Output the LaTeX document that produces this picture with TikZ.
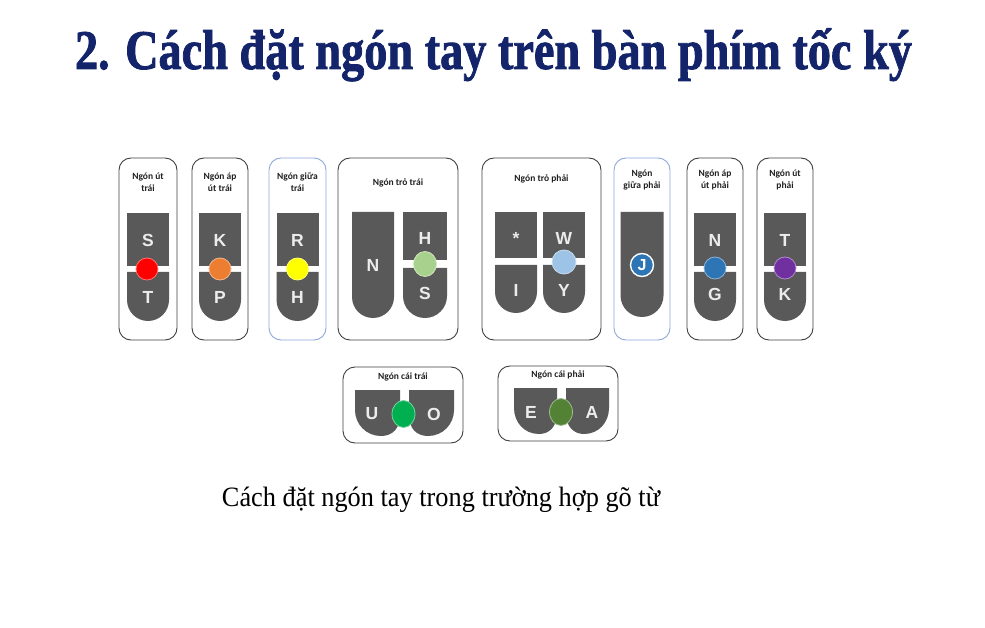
\documentclass[tikz,border=0pt]{standalone}
\usepackage{fontspec}
\setmainfont{Liberation Serif}
\newfontfamily\headfont[FakeBold=1.6]{Liberation Serif Bold}
\newfontfamily\labelfont{Carlito}
\newfontfamily\keyfont{Liberation Sans}
\usetikzlibrary{shapes.geometric}

\definecolor{titleblue}{HTML}{14246B}
\definecolor{keygray}{HTML}{595959}
\definecolor{keyletter}{HTML}{ECECEC}
\definecolor{panelline}{HTML}{404040}
\definecolor{panelblue}{HTML}{8EA9DB}
\definecolor{labeltext}{HTML}{202020}
\definecolor{dotred}{HTML}{FF0000}
\definecolor{dotorange}{HTML}{ED7D31}
\definecolor{dotyellow}{HTML}{FFFF00}
\definecolor{dotlgreen}{HTML}{A9D18E}
\definecolor{dotlblue}{HTML}{9DC3E6}
\definecolor{dotblue}{HTML}{2E75B6}
\definecolor{dotpurple}{HTML}{7030A0}
\definecolor{dotgreen}{HTML}{00B050}
\definecolor{dotdgreen}{HTML}{548235}

% square-topped key
\newcommand\keyrect[4]{\fill[keygray] (#1,#2) rectangle (#3,#4);}
% key with a half-round bottom: x1, y1 (top), x2, y2 (bottom)
\newcommand\keyround[4]{%
  \pgfmathsetmacro\kxa{#1}%
  \pgfmathsetmacro\kxb{#3}%
  \pgfmathsetmacro\kr{(\kxb-\kxa)/2}%
  \pgfmathsetmacro\kc{(\kxb+\kxa)/2}%
  \pgfmathsetmacro\km{#4-\kr}%
  \pgfmathsetmacro\kk{0.5523*\kr}%
  \fill[keygray] (\kxa,#2) -- (\kxb,#2) -- (\kxb,\km)
    .. controls (\kxb,\km+\kk) and (\kc+\kk,#4) .. (\kc,#4)
    .. controls (\kc-\kk,#4) and (\kxa,\km+\kk) .. (\kxa,\km) -- cycle;}

\begin{document}
\begin{tikzpicture}[x=1pt,y=-1pt,
  panel/.style={draw=panelline, line width=0.9pt, rounded corners=12pt,
    fill=white, inner sep=0pt},
  panelb/.style={panel, draw=panelblue},
  lbl/.style={align=center, text=labeltext, inner sep=0pt,
    font=\labelfont\bfseries\fontsize{9.5}{12}\selectfont},
  keytxt/.style={text=keyletter, inner sep=0pt,
    font=\keyfont\bfseries\fontsize{17.5}{17.5}\selectfont},
  dot/.style={circle, minimum size=22pt, inner sep=0pt, line width=0.8pt,
    fill=#1, draw=#1!55!white},
  thumbdot/.style={ellipse, minimum width=23pt, minimum height=27pt,
    inner sep=0pt, line width=0.8pt, fill=#1, draw=#1!55!white}]

\useasboundingbox (0,0) rectangle (985,628);
\fill[white] (0,0) rectangle (985,628);

% heading
\node[anchor=base, text=titleblue, inner sep=0pt] (title) at (493.5,69)
  {\resizebox{837pt}{\height}{\headfont\fontsize{56}{56}\selectfont
   2. Cách đặt ngón tay trên bàn phím tốc ký}};

% finger panels
\node[panel,  minimum width=58pt,  minimum height=182pt] (p1) at (148,249) {};
\node[panel,  minimum width=56pt,  minimum height=182pt] (p2) at (220,249) {};
\node[panelb, minimum width=57pt,  minimum height=182pt] (p3) at (297.5,249) {};
\node[panel,  minimum width=120pt, minimum height=182pt] (p4) at (398,249) {};
\node[panel,  minimum width=119pt, minimum height=182pt] (p5) at (541.5,249) {};
\node[panelb, minimum width=56pt,  minimum height=182pt] (p6) at (642,249) {};
\node[panel,  minimum width=56pt,  minimum height=182pt] (p7) at (715,249) {};
\node[panel,  minimum width=56pt,  minimum height=182pt] (p8) at (785,249) {};
% thumb panels
\node[panel, minimum width=120pt, minimum height=76pt] (p9)  at (403,405) {};
\node[panel, minimum width=120pt, minimum height=75pt] (p10) at (558,403.5) {};

% panel captions
\node[lbl] (l1) at (148,182) {Ngón út\\trái};
\node[lbl] (l2) at (220,182) {Ngón áp\\út trái};
\node[lbl] (l3) at (297.5,182) {Ngón giữa\\trái};
\node[lbl] (l4) at (398,183) {Ngón trỏ trái};
\node[lbl] (l5) at (541.5,179) {Ngón trỏ phải};
\node[lbl] (l6) at (642,180) {Ngón\\giữa phải};
\node[lbl] (l7) at (715,180) {Ngón áp\\út phải};
\node[lbl] (l8) at (785,180) {Ngón út\\phải};
\node[lbl] (l9) at (403,377) {Ngón cái trái};
\node[lbl] (l10) at (558,375) {Ngón cái phải};

% two-key columns (little, ring, middle fingers)
\foreach \cx in {148,220,297.5,715,785}{
  \keyrect{\cx-21}{213}{\cx+21}{266}
  \keyround{\cx-21}{272}{\cx+21}{321}
}
% left index: N | H over S
\keyround{352}{212}{394}{318}
\keyrect{403}{212}{447}{260}
\keyround{403}{268}{447}{318}
% right index: * over I | W over Y
\keyrect{495}{212}{537}{258}
\keyround{495}{265}{537}{313}
\keyrect{543}{212}{585}{258}
\keyround{543}{265}{585}{313}
% right middle: J
\keyround{620.5}{212}{663.5}{317}

% thumb keys
\fill[keygray] (355,390) -- (400,390) -- (400,415)
  .. controls (400,429) and (392,436) .. (381,436)
  .. controls (366,436) and (355,424) .. (355,410) -- cycle;
\fill[keygray] (409,390) -- (454,390) -- (454,410)
  .. controls (454,424) and (443,436) .. (428,436)
  .. controls (417,436) and (409,429) .. (409,415) -- cycle;
\fill[keygray] (514,388) -- (557,388) -- (557,413)
  .. controls (557,427) and (549,434) .. (539,434)
  .. controls (524,434) and (514,422) .. (514,408) -- cycle;
\fill[keygray] (566,388) -- (609,388) -- (609,408)
  .. controls (609,422) and (599,434) .. (584,434)
  .. controls (574,434) and (566,427) .. (566,413) -- cycle;

% finger dots
\node[dot=dotred]    (d1) at (147,269) {};
\node[dot=dotorange] (d2) at (220,269) {};
\node[dot=dotyellow] (d3) at (297.5,269) {};
\node[dot=dotlgreen, minimum width=23pt, minimum height=25pt, ellipse] (d4) at (425,264) {};
\node[dot=dotlblue, minimum size=24pt] (d5) at (564,262) {};
\node[circle, minimum size=23pt, inner sep=0pt, fill=dotblue, draw=white,
  line width=1.4pt, text=white,
  font=\keyfont\bfseries\fontsize{16}{16}\selectfont] (d6) at (642,265) {J};
\node[dot=dotblue]   (d7) at (715,268) {};
\node[dot=dotpurple] (d8) at (785,268) {};
\node[thumbdot=dotgreen]  (d9)  at (403.5,414) {};
\node[thumbdot=dotdgreen] (d10) at (561,412) {};

% key letters
\node[keytxt] (kS)  at (148,240) {S};
\node[keytxt] (kT)  at (148,297) {T};
\node[keytxt] (kK)  at (220,240) {K};
\node[keytxt] (kP)  at (220,297) {P};
\node[keytxt] (kR)  at (297.5,240) {R};
\node[keytxt] (kH)  at (297.5,297) {H};
\node[keytxt] (kN)  at (373,265) {N};
\node[keytxt] (kH2) at (425,238) {H};
\node[keytxt] (kS2) at (425,293) {S};
\node[keytxt] (kst) at (516,238) {*};
\node[keytxt] (kW)  at (564,238) {W};
\node[keytxt] (kI)  at (516,290) {I};
\node[keytxt] (kY)  at (564,290) {Y};
\node[keytxt] (kN2) at (715,240) {N};
\node[keytxt] (kG)  at (715,294) {G};
\node[keytxt] (kT2) at (785,240) {T};
\node[keytxt] (kK2) at (785,294) {K};
\node[keytxt] (kU)  at (372,414) {U};
\node[keytxt] (kO)  at (434,414) {O};
\node[keytxt] (kE)  at (531,412) {E};
\node[keytxt] (kA)  at (592,412) {A};

% caption under the keys
\node[anchor=base, inner sep=0pt] (caption) at (441,506)
  {\resizebox{438pt}{\height}{\fontsize{28}{28}\selectfont
   Cách đặt ngón tay trong trường hợp gõ từ}};

\end{tikzpicture}
\end{document}
